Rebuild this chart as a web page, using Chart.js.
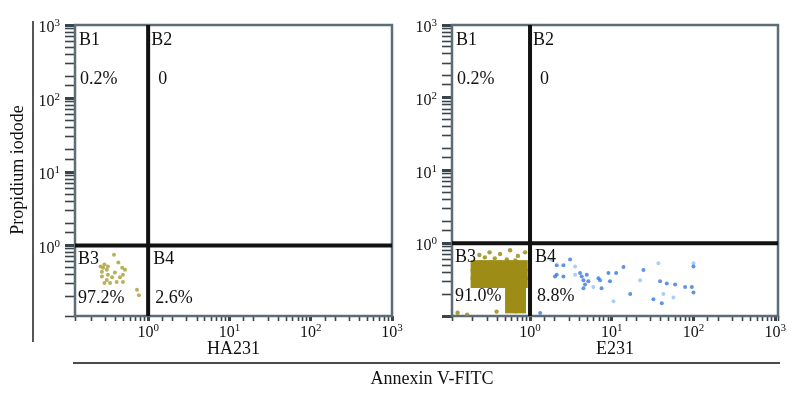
<!DOCTYPE html>
<html>
<head>
<meta charset="utf-8">
<script src="https://cdn.jsdelivr.net/npm/chart.js@4.4.1/dist/chart.umd.min.js"></script>
<style>
  body { margin: 0; background: #fff; }
  #wrap { position: relative; width: 800px; height: 396px; }
  canvas { position: absolute; left: 0; top: 0; }
</style>
</head>
<body>
<div id="wrap">
  <canvas id="ha231" width="800" height="396"></canvas>
  <canvas id="e231" width="800" height="396"></canvas>
</div>
<script>
// quadrant names and percentages
var quadNames = ["B1", "B2", "B3", "B4"];
var haPercent = ["0.2%", "0", "97.2%", "2.6%"];
var ePercent = ["0.2%", "0", "91.0%", "8.8%"];
var tickPowers = [0, 1, 2, 3];
var gateX = 1, gateY = 1;

// HA231 events (Annexin V, PI)
var haX = [0.38, 0.29, 0.28, 0.27, 0.31, 0.32, 0.43, 0.48, 0.52, 0.49, 0.45, 0.49, 0.41, 0.36, 0.31, 0.27, 0.29, 0.34, 0.39, 0.32, 0.73, 0.77, 0.26];
var haY = [0.75, 0.55, 0.50, 0.44, 0.47, 0.52, 0.59, 0.50, 0.47, 0.40, 0.37, 0.32, 0.32, 0.37, 0.34, 0.38, 0.31, 0.31, 0.43, 0.40, 0.25, 0.21, 0.52];

// E231 dense live population
var eDenseX = [0.22, 0.29, 0.37, 0.48, 0.62, 0.80, 0.22, 0.29, 0.37, 0.48, 0.62, 0.80, 0.22, 0.29, 0.37, 0.48, 0.62, 0.80, 0.58, 0.76, 0.58, 0.76, 0.58, 0.76];
var eDenseY = [0.49, 0.49, 0.49, 0.49, 0.49, 0.49, 0.37, 0.37, 0.37, 0.37, 0.37, 0.37, 0.29, 0.29, 0.29, 0.29, 0.29, 0.29, 0.22, 0.22, 0.17, 0.17, 0.13, 0.13];
// E231 loose live events
var eLooseX = [0.24, 0.32, 0.43, 0.57, 0.71, 0.87, 0.37, 0.28, 0.52, 0.66, 0.13, 0.17, 0.39];
var eLooseY = [0.69, 0.75, 0.71, 0.80, 0.67, 0.75, 0.62, 0.64, 0.60, 0.58, 0.111, 0.104, 0.115];
// E231 apoptotic events
var eBlueX = [2.12, 2.56, 3.09, 4.09, 4.29, 4.94, 2.12, 2.02, 2.56, 4.5, 5.17, 4.71, 4.5, 6.86, 7.19, 9.1, 11.3, 9.5, 7.5, 13.9, 16.8, 24.4, 39, 47.1, 59.6, 78.9, 95.3, 99.8, 99.8, 32.3, 40.9, 1.33];
var eBlueY = [0.50, 0.50, 0.60, 0.39, 0.35, 0.37, 0.37, 0.35, 0.35, 0.31, 0.30, 0.27, 0.24, 0.33, 0.31, 0.39, 0.39, 0.30, 0.24, 0.47, 0.20, 0.43, 0.30, 0.28, 0.27, 0.25, 0.25, 0.48, 0.21, 0.17, 0.15, 0.11];
var ePaleX = [1.84, 3.56, 3.56, 5.96, 10.5, 22.2, 37.2, 56.8, 99.8, 42.8];
var ePaleY = [0.59, 0.48, 0.37, 0.25, 0.16, 0.31, 0.53, 0.18, 0.53, 0.20];

var serif = "'Liberation Serif', 'Times New Roman', serif";

function pts(xs, ys) {
  return xs.map(function (x, i) { return { x: x, y: ys[i] }; });
}

function isPower(v) {
  var l = Math.log10(v);
  return Math.abs(l - Math.round(l)) < 1e-6;
}

function drawPow(ctx, x, y, exp, align) {
  ctx.font = "16px " + serif;
  var w1 = ctx.measureText("10").width;
  ctx.font = "11px " + serif;
  var w2 = ctx.measureText(String(exp)).width;
  var x0 = align === "right" ? x - w1 - w2 : x - (w1 + w2) / 2;
  ctx.textAlign = "left";
  ctx.textBaseline = "alphabetic";
  ctx.font = "16px " + serif;
  ctx.fillText("10", x0, y);
  ctx.font = "11px " + serif;
  ctx.fillText(String(exp), x0 + w1, y - 6);
}

var flowPlugin = {
  id: "flow",
  beforeDatasetsDraw: function (chart) {
    var a = chart.chartArea, ctx = chart.ctx;
    ctx.save();
    ctx.strokeStyle = "#5e6c76";
    ctx.lineWidth = 2.5;
    ctx.strokeRect(a.left, a.top, a.right - a.left, a.bottom - a.top);
    ctx.restore();
  },
  afterDraw: function (chart, args, o) {
    var a = chart.chartArea, ctx = chart.ctx;
    var xs = chart.scales.x, ys = chart.scales.y;
    var gx = xs.getPixelForValue(gateX), gy = ys.getPixelForValue(gateY);
    ctx.save();
    ctx.fillStyle = "#111";
    tickPowers.forEach(function (p) {
      drawPow(ctx, xs.getPixelForValue(Math.pow(10, p)), a.bottom + 21, p, "center");
      drawPow(ctx, a.left - 15, ys.getPixelForValue(Math.pow(10, p)) + 7, p, "right");
    });
    ctx.font = "18px " + serif;
    ctx.textAlign = "left";
    ctx.textBaseline = "middle";
    ctx.fillText(quadNames[0], a.left + 4, a.top + 15);
    ctx.fillText(o.percent[0], a.left + 5, a.top + 54);
    ctx.fillText(quadNames[1], gx + 3, a.top + 15);
    ctx.fillText(o.percent[1], gx + 10, a.top + 54);
    ctx.fillText(quadNames[2], a.left + 3, gy + 14);
    ctx.fillText(o.percent[2], a.left + 3, gy + 53);
    ctx.fillText(quadNames[3], gx + 5, gy + 14);
    ctx.fillText(o.percent[3], gx + 7, gy + 53);
    ctx.textAlign = "center";
    ctx.fillText(o.title, (a.left + a.right) / 2, a.bottom + 33);
    if (o.shared) {
      ctx.strokeStyle = "#111";
      ctx.lineWidth = 1.4;
      ctx.beginPath();
      ctx.moveTo(33, 21); ctx.lineTo(33, 342);
      ctx.moveTo(73, 363); ctx.lineTo(780, 363);
      ctx.stroke();
      ctx.fillText("Annexin V-FITC", 432, 379);
      ctx.translate(18, 170);
      ctx.rotate(-Math.PI / 2);
      ctx.fillText("Propidium iodode", 0, 0);
    }
    ctx.restore();
  }
};

function logAxis(min, max, len, size, horizontal) {
  return {
    type: "logarithmic",
    min: min,
    max: max,
    border: { display: false },
    grid: {
      drawOnChartArea: false,
      drawTicks: true,
      tickLength: len,
      tickColor: "#39444c",
      tickWidth: function (c) { return c.tick && isPower(c.tick.value) ? 3 : 1.6; }
    },
    ticks: { display: false },
    afterFit: function (s) {
      if (horizontal) s.height = size; else s.width = size;
    }
  };
}

function gateSets(xmin, xmax, ymin, ymax) {
  return [
    { type: "line", data: [{ x: gateX, y: ymin }, { x: gateX, y: ymax }], borderColor: "#111", borderWidth: 4, pointRadius: 0 },
    { type: "line", data: [{ x: xmin, y: gateY }, { x: xmax, y: gateY }], borderColor: "#111", borderWidth: 4, pointRadius: 0 }
  ];
}

function makeChart(id, sets, xr, yr, pad, opts) {
  return new Chart(document.getElementById(id).getContext("2d"), {
    type: "scatter",
    data: { datasets: gateSets(xr[0], xr[1], yr[0], yr[1]).concat(sets) },
    options: {
      responsive: false,
      animation: false,
      devicePixelRatio: 1,
      layout: { padding: pad },
      plugins: { legend: { display: false }, tooltip: { enabled: false }, flow: opts },
      scales: {
        x: logAxis(xr[0], xr[1], 5, 30, true),
        y: logAxis(yr[0], yr[1], 10, 10, false)
      }
    },
    plugins: [flowPlugin]
  });
}

makeChart("ha231", [
  { data: pts(haX, haY), backgroundColor: "rgba(168,156,50,0.8)", pointRadius: 2, borderWidth: 0 }
], [0.126, 1000], [0.11, 1000],
  { left: 65, right: 408, top: 25, bottom: 50 },
  { percent: haPercent, title: "HA231", shared: true });

makeChart("e231", [
  { data: pts(eDenseX, eDenseY), backgroundColor: "#9d8c16", pointStyle: "rect", pointRadius: 8, borderWidth: 0 },
  { data: pts(eLooseX, eLooseY), backgroundColor: "rgba(157,140,22,0.85)", pointRadius: 2.2, borderWidth: 0 },
  { data: pts(eBlueX, eBlueY), backgroundColor: "rgba(55,120,225,0.8)", pointRadius: 2, borderWidth: 0 },
  { data: pts(ePaleX, ePaleY), backgroundColor: "rgba(150,195,240,0.8)", pointRadius: 2, borderWidth: 0 }
], [0.111, 1080], [0.1, 1000],
  { left: 442, right: 22, top: 25, bottom: 50 },
  { percent: ePercent, title: "E231", shared: false });
</script>
</body>
</html>
